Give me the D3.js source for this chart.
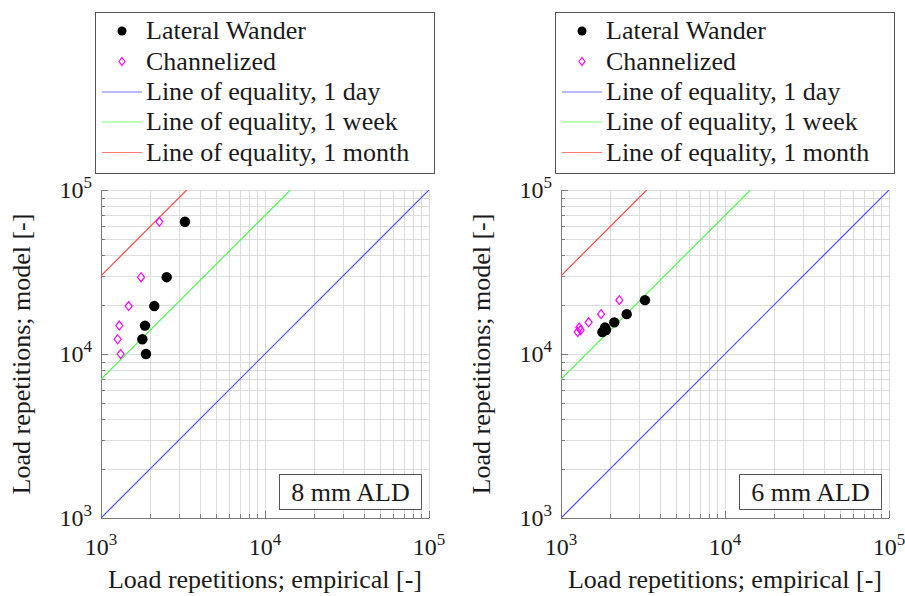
<!DOCTYPE html>
<html>
<head>
<script src="https://cdn.jsdelivr.net/npm/d3@7"></script>
</head>
<body style="margin:0">
<svg id="chart" width="905" height="596"></svg>
<script>
// Empirical load repetitions (x) for each specimen
const empiricalWander  = [3250, 2515, 2113, 1854, 1787, 1881];
const empiricalChannel = [2268, 1754, 1475, 1293, 1264, 1318];
// Model load repetitions (y), one list per ALD panel
const model8mm = [64000, 29400, 19600, 14900, 12300, 10000];
const model6mm = [21300, 17500, 15600, 14500, 13600, 14000];

const panelLabels = ["8 mm ALD", "6 mm ALD"];
const majorTicks = [1e3, 1e4, 1e5];
const tickExponents = ["3", "4", "5"];

// Lines of equality: model = factor x empirical
const equalityFactors = [1, 7, 30];
const equalityLabels = ["Line of equality, 1 day", "Line of equality, 1 week", "Line of equality, 1 month"];
const equalityColors = ["#4a4aff", "#4aff4a", "#ff4a4a"];

const seriesLabels = ["Lateral Wander", "Channelized"];
const xTitle = "Load repetitions; empirical [-]";
const yTitle = "Load repetitions; model [-]";

const svg = d3.select("#chart").style("display", "block");
const fs = 26;
const size = 328;
const panels = [
  { left: 101, model: model8mm, label: panelLabels[0], legendX: 95 },
  { left: 561, model: model6mm, label: panelLabels[1], legendX: 555 }
];
const plotTop = 190;
const serifStack = "'Liberation Serif', 'Times New Roman', serif";

// text layer sits at the root of the svg, above all marks
function addText(size) {
  return svg.append("text")
    .attr("font-family", serifStack)
    .style("font-family", serifStack, "important")
    .attr("font-size", size)
    .attr("fill", "#1a1a1a");
}

const minorTicks = [];
[1e3, 1e4].forEach(d => { for (let k = 2; k <= 9; k++) minorTicks.push(d * k); });

panels.forEach((p, pi) => {
  const x = d3.scaleLog().domain([1e3, 1e5]).range([p.left, p.left + size]);
  const y = d3.scaleLog().domain([1e3, 1e5]).range([plotTop + size, plotTop]);
  const g = svg.append("g");

  const clipId = "clip" + pi;
  svg.append("clipPath").attr("id", clipId)
    .append("rect").attr("x", p.left).attr("y", plotTop).attr("width", size).attr("height", size);

  // grid
  const grid = g.append("g").attr("stroke", "#dcdcdc").attr("stroke-width", 1);
  minorTicks.concat(majorTicks).forEach(v => {
    grid.append("line").attr("x1", Math.round(x(v)) + 0.5).attr("x2", Math.round(x(v)) + 0.5)
      .attr("y1", plotTop).attr("y2", plotTop + size);
    grid.append("line").attr("y1", Math.round(y(v)) + 0.5).attr("y2", Math.round(y(v)) + 0.5)
      .attr("x1", p.left).attr("x2", p.left + size);
  });

  // axes (left and bottom) with inward ticks
  const axisG = g.append("g").attr("stroke", "#7a7a7a").attr("stroke-width", 1);
  axisG.append("line").attr("x1", p.left + 0.5).attr("x2", p.left + 0.5).attr("y1", plotTop).attr("y2", plotTop + size);
  axisG.append("line").attr("x1", p.left).attr("x2", p.left + size).attr("y1", plotTop + size + 0.5).attr("y2", plotTop + size + 0.5);
  majorTicks.forEach(v => {
    axisG.append("line").attr("x1", p.left).attr("x2", p.left + 7)
      .attr("y1", Math.round(y(v)) + 0.5).attr("y2", Math.round(y(v)) + 0.5);
    axisG.append("line").attr("x1", Math.round(x(v)) + 0.5).attr("x2", Math.round(x(v)) + 0.5)
      .attr("y1", plotTop + size).attr("y2", plotTop + size - 7);
  });
  minorTicks.forEach(v => {
    axisG.append("line").attr("x1", p.left).attr("x2", p.left + 4)
      .attr("y1", Math.round(y(v)) + 0.5).attr("y2", Math.round(y(v)) + 0.5);
    axisG.append("line").attr("x1", Math.round(x(v)) + 0.5).attr("x2", Math.round(x(v)) + 0.5)
      .attr("y1", plotTop + size).attr("y2", plotTop + size - 4);
  });

  // lines of equality
  const lines = g.append("g").attr("clip-path", `url(#${clipId})`);
  equalityFactors.forEach((k, i) => {
    const x1 = Math.min(1e5, 1e5 / k);
    lines.append("line")
      .attr("x1", x(1e3)).attr("y1", y(1e3 * k))
      .attr("x2", x(x1)).attr("y2", y(x1 * k))
      .attr("stroke", equalityColors[i]).attr("stroke-width", 1.2);
  });

  // data points
  const wander = empiricalWander.map((e, i) => [e, p.model[i]]);
  const channel = empiricalChannel.map((e, i) => [e, p.model[i]]);
  g.append("g").selectAll("path").data(channel).join("path")
    .attr("d", d => `M${x(d[0])},${y(d[1]) - 4.5}l3.5,4.5l-3.5,4.5l-3.5,-4.5z`)
    .attr("fill", "none").attr("stroke", "#ff00ff").attr("stroke-width", 1.2);
  g.append("g").selectAll("circle").data(wander).join("circle")
    .attr("cx", d => x(d[0])).attr("cy", d => y(d[1])).attr("r", 5.2).attr("fill", "#000");

  // panel label box
  const bx = p.left + 178, bw = 142;
  g.append("rect").attr("x", bx + 0.5).attr("y", 474.5).attr("width", bw).attr("height", 35)
    .attr("fill", "#fff").attr("stroke", "#555").attr("stroke-width", 1);

  // legend frame and keys
  const lx = p.legendX;
  const lg = g.append("g");
  lg.append("rect").attr("x", lx + 0.5).attr("y", 12.5).attr("width", 339).attr("height", 161)
    .attr("fill", "#fff").attr("stroke", "#555").attr("stroke-width", 1);
  const rowY = [31, 61.5, 92, 122, 152.5];
  const textX = lx + 51;
  lg.append("circle").attr("cx", lx + 27).attr("cy", rowY[0]).attr("r", 4.5).attr("fill", "#000");
  lg.append("path").attr("d", `M${lx + 27},${rowY[1] - 4}l3,4l-3,4l-3,-4z`)
    .attr("fill", "none").attr("stroke", "#ff00ff").attr("stroke-width", 1.2);
  equalityLabels.forEach((t, i) => {
    lg.append("line").attr("x1", lx + 7).attr("x2", lx + 47)
      .attr("y1", rowY[i + 2]).attr("y2", rowY[i + 2])
      .attr("stroke", equalityColors[i]).attr("stroke-width", 1.2).attr("opacity", 0.75);
  });

  // ---- text ----
  majorTicks.forEach((v, i) => {
    const tx = addText(24).attr("x", x(v)).attr("y", plotTop + size + 37)
      .attr("text-anchor", "middle");
    tx.append("tspan").text("10");
    tx.append("tspan").attr("dy", -10).attr("font-size", 17).text(tickExponents[i]);
    const ty = addText(24).attr("x", p.left - 9).attr("y", y(v) + 8)
      .attr("text-anchor", "end");
    ty.append("tspan").text("10");
    ty.append("tspan").attr("dy", -10).attr("font-size", 17).text(tickExponents[i]);
  });

  addText(fs).attr("x", p.left + size / 2).attr("y", 588)
    .attr("text-anchor", "middle").text(xTitle);
  addText(fs).attr("transform", `translate(${p.left - 71},${plotTop + size / 2}) rotate(-90)`)
    .attr("text-anchor", "middle").text(yTitle);

  addText(fs).attr("x", bx + bw / 2 + 0.5).attr("y", 501).attr("text-anchor", "middle")
    .text(p.label);

  seriesLabels.forEach((t, i) => {
    addText(fs).attr("x", textX).attr("y", rowY[i] + 8).text(t);
  });
  equalityLabels.forEach((t, i) => {
    addText(fs).attr("x", textX).attr("y", rowY[i + 2] + 8).text(t);
  });
});
</script>
</body>
</html>
